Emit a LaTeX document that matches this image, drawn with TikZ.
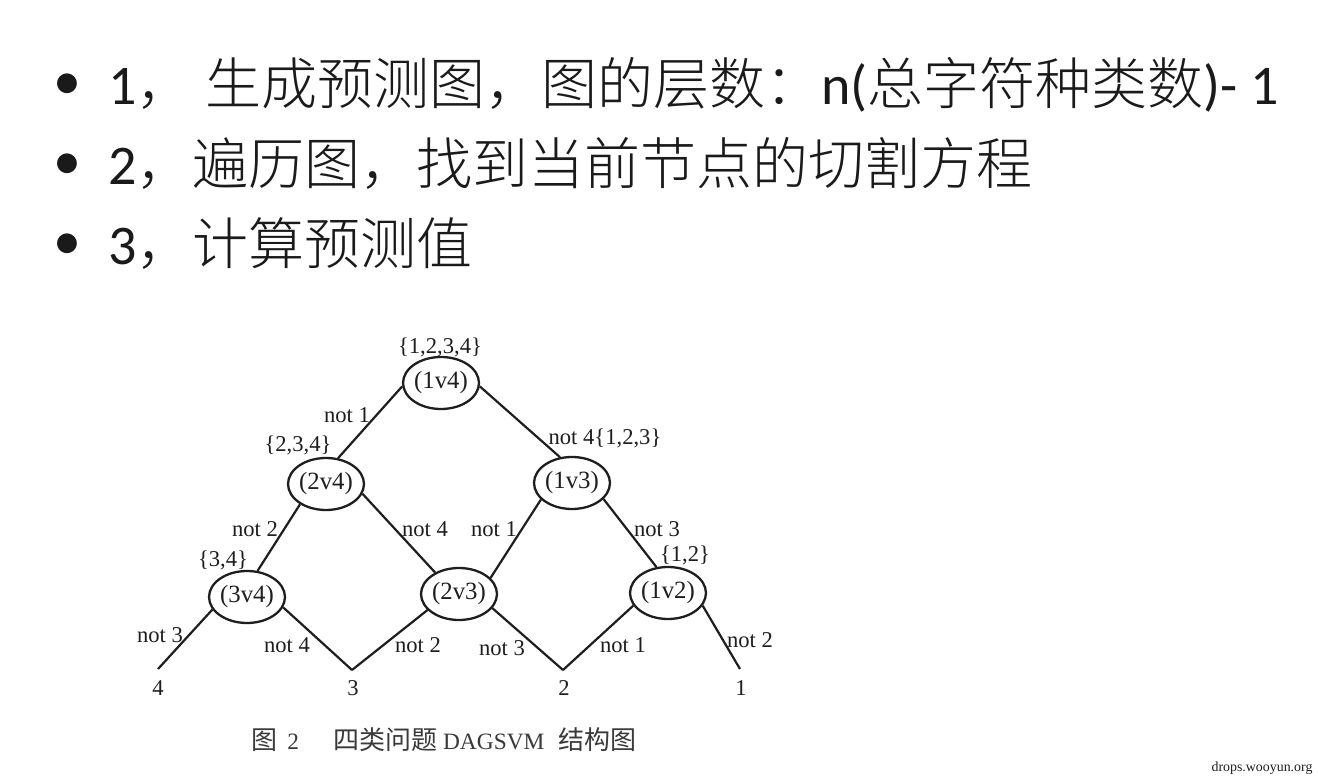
\documentclass[tikz,border=0pt]{standalone}
\usepackage{fontspec}
\setmainfont{Liberation Serif}
\newfontfamily\cjk{Noto Sans CJK SC Light}
\newfontfamily\cjkcap{Noto Sans CJK SC}
\newfontfamily\calfont[Numbers=Lining]{Carlito}
\usetikzlibrary{shapes.geometric}
\definecolor{ink}{HTML}{1E1E1E}
\definecolor{slide}{HTML}{1A1A1A}
\definecolor{capgray}{HTML}{3A3A3A}
\tikzset{
  svm/.style={ellipse,draw=ink,line width=1.15pt,minimum width=29.5pt,minimum height=26pt,inner sep=0pt,text=ink,font=\fontsize{12.4}{14}\selectfont},
  lab/.style={inner sep=0pt,text=ink,font=\fontsize{11.3}{13}\selectfont},
  edge/.style={draw=ink,line width=1.1pt},
  bline/.style={inner sep=0pt,anchor=base west,text=slide,font=\calfont\fontsize{28}{32}\selectfont},
  bul/.style={inner sep=0pt,text=slide,font=\calfont\fontsize{28}{32}\selectfont}
}
\begin{document}
\begin{tikzpicture}[x=0.5pt,y=-0.5pt]
\useasboundingbox[fill=white] (0,0) rectangle (1318,780);

% bullet list
\node[bul] (b1) at (67,87) {•};
\node[bul] (b2) at (67,167) {•};
\node[bul] (b3) at (67,247) {•};
\node[bline] (l1) at (108,105) {1{\cjk ，} {\cjk 生成预测图，图的层数：}n({\cjk 总字符种类数})- 1};
\node[bline] (l2) at (108,185) {2{\cjk ，遍历图，找到当前节点的切割方程}};
\node[bline] (l3) at (108,265) {3{\cjk ，计算预测值}};

% SVM nodes
\node[svm] (n14) at (441,383) {(1v4)};
\node[svm] (n24) at (326,484) {(2v4)};
\node[svm] (n13) at (572,483) {(1v3)};
\node[svm] (n34) at (247,597) {(3v4)};
\node[svm] (n23) at (459,594) {(2v3)};
\node[svm] (n12) at (668,593) {(1v2)};

% leaves
\coordinate (c4) at (158,669);
\coordinate (c3) at (352,670);
\coordinate (c2) at (563,670);
\coordinate (c1) at (740,669);
\node[lab] (t4) at (158,688) {4};
\node[lab] (t3) at (353,688) {3};
\node[lab] (t2) at (564,688) {2};
\node[lab] (t1) at (741,688) {1};

% edges
\draw[edge] (n14.185) -- (n24.65);
\draw[edge] (n14.-5) -- (n13.115);
\draw[edge] (n24.218) -- (n34.68);
\draw[edge] (n24.-15) -- (n23.138);
\draw[edge] (n13.208) -- (n23.27);
\draw[edge] (n13.-27) -- (n12.114);
\draw[edge] (n34.200) -- (c4);
\draw[edge] (n34.-16) -- (c3);
\draw[edge] (n23.207) -- (c3);
\draw[edge] (n23.-23) -- (c2);
\draw[edge] (n12.200) -- (c2);
\draw[edge] (n12.-20) -- (c1);

% labels
\node[lab] (s1234) at (440,347) {\{1,2,3,4\}};
\node[lab] (s234) at (298,445) {\{2,3,4\}};
\node[lab] (s123) at (605,438) {not 4\{1,2,3\}};
\node[lab] (s34) at (223,560) {\{3,4\}};
\node[lab] (s12) at (685,555) {\{1,2\}};
\node[lab] (na1) at (347,415) {not 1};
\node[lab] (na2) at (255,529) {not 2};
\node[lab] (na4) at (425,529) {not 4};
\node[lab] (nb1) at (494,529) {not 1};
\node[lab] (na3) at (657,529) {not 3};
\node[lab] (nb3) at (160,635) {not 3};
\node[lab] (nb4) at (287,645) {not 4};
\node[lab] (nb2) at (418,645) {not 2};
\node[lab] (nc3) at (502,648) {not 3};
\node[lab] (nc1) at (623,645) {not 1};
\node[lab] (nc2) at (750,640) {not 2};

% caption
\node[inner sep=0pt,anchor=base west,text=capgray,font=\fontsize{11.7}{14}\selectfont] (cap) at (251,749)
  {{\cjkcap\fontsize{13}{14}\selectfont 图}\hspace{5pt}2\hspace{17pt}{\cjkcap\fontsize{13}{14}\selectfont 四类问题}\hspace{3pt}DAGSVM\hspace{7pt}{\cjkcap\fontsize{13}{14}\selectfont 结构图}};

% watermark
\node[inner sep=0pt,text=ink,font=\fontsize{6.95}{8}\selectfont] (wm) at (1262,768) {drops.wooyun.org};
\end{tikzpicture}
\end{document}
